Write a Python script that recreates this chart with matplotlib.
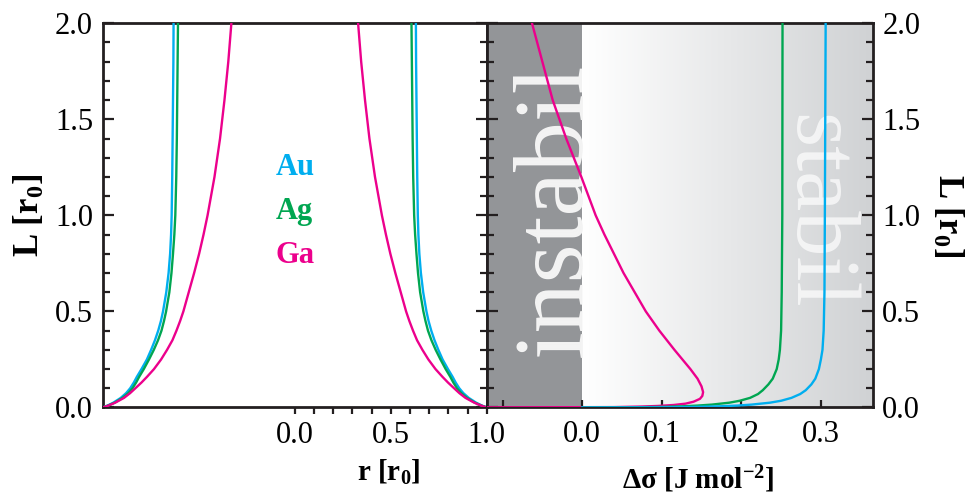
import numpy as np
import matplotlib.pyplot as plt
from matplotlib.ticker import MultipleLocator
from matplotlib.colors import LinearSegmentedColormap

plt.rcParams['font.family'] = ['Liberation Serif', 'DejaVu Serif']
plt.rcParams['mathtext.fontset'] = 'custom'
plt.rcParams['mathtext.rm'] = 'Liberation Serif'
plt.rcParams['mathtext.bf'] = 'Liberation Serif:bold'
plt.rcParams['mathtext.it'] = 'Liberation Serif:italic'

# left panel: L [r0] against r [r0], read on the r >= 0 side (curves are mirror symmetric)
L_left = [0.0, 0.01, 0.025, 0.05, 0.075, 0.1, 0.13, 0.16, 0.2, 0.25, 0.3, 0.35, 0.4,
          0.45, 0.5, 0.6, 0.7, 0.8, 0.9, 1.0, 1.2, 1.4, 1.6, 1.8, 2.0]
r_au = [1.0, 0.975, 0.945, 0.906, 0.878, 0.857, 0.838, 0.822, 0.798, 0.770, 0.748, 0.728, 0.711,
        0.697, 0.686, 0.669, 0.657, 0.649, 0.644, 0.641, 0.638, 0.636, 0.634, 0.632, 0.631]
r_ag = [1.0, 0.972, 0.938, 0.897, 0.867, 0.845, 0.826, 0.810, 0.786, 0.759, 0.734, 0.712, 0.694,
        0.681, 0.670, 0.653, 0.642, 0.634, 0.627, 0.622, 0.617, 0.614, 0.612, 0.610, 0.608]
r_ga = [1.0, 0.970, 0.935, 0.889, 0.857, 0.830, 0.798, 0.769, 0.733, 0.696, 0.665, 0.637, 0.616,
        0.597, 0.580, 0.552, 0.524, 0.498, 0.475, 0.454, 0.418, 0.389, 0.366, 0.346, 0.330]

# right panel: L [r0] against delta sigma [J mol-2]
L_ga = [2.0, 1.8, 1.6, 1.4, 1.2, 1.0, 0.9, 0.8, 0.7, 0.6, 0.5, 0.4, 0.3, 0.25, 0.2, 0.15,
        0.11, 0.08, 0.06, 0.045, 0.03, 0.02, 0.013, 0.008, 0.005, 0.002, 0.0005]
ds_ga = [-0.063, -0.050, -0.037, -0.020, -0.001, 0.017, 0.028, 0.040, 0.052, 0.066, 0.080, 0.097,
         0.116, 0.126, 0.136, 0.145, 0.150, 0.152, 0.151, 0.148, 0.140, 0.130, 0.115, 0.095,
         0.075, 0.040, -0.12]
L_ag = [2.0, 1.0, 0.6, 0.4, 0.3, 0.25, 0.2, 0.15, 0.12, 0.09, 0.07, 0.05, 0.035, 0.025,
        0.015, 0.01, 0.006, 0.003, 0.001, 0.0]
ds_ag = [0.2518, 0.2515, 0.2508, 0.2500, 0.2485, 0.2470, 0.2445, 0.2395, 0.2340, 0.2270, 0.2210,
         0.2110, 0.1980, 0.1850, 0.1630, 0.1450, 0.1250, 0.1000, 0.0600, 0.0]
L_au = [2.0, 1.0, 0.6, 0.4, 0.3, 0.25, 0.2, 0.15, 0.12, 0.09, 0.07, 0.05, 0.035, 0.025,
        0.015, 0.01, 0.006, 0.003, 0.001, 0.0]
ds_au = [0.306, 0.305, 0.3045, 0.3035, 0.302, 0.300, 0.2975, 0.293, 0.288, 0.281, 0.274,
         0.263, 0.250, 0.236, 0.213, 0.195, 0.172, 0.140, 0.100, 0.0]

colors = {'Au': '#00aeef', 'Ag': '#00a651', 'Ga': '#ec008c'}
left_r = {'Au': r_au, 'Ag': r_ag, 'Ga': r_ga}
right_data = {'Au': (ds_au, L_au), 'Ag': (ds_ag, L_ag), 'Ga': (ds_ga, L_ga)}

xticks_left = [0.0, 0.1, 0.2, 0.3, 0.4, 0.5, 0.6, 0.7, 0.8, 0.9, 1.0]
xticks_right = [-0.1, 0.0, 0.1, 0.2, 0.3]

ink = '#231f20'
fig = plt.figure(figsize=(9.7, 4.95), dpi=100)
ax1 = fig.add_axes([0.1059, 0.1768, 0.3959, 0.7762])
ax2 = fig.add_axes([0.5017, 0.1768, 0.3979, 0.7762])

# left panel
for name in ['Au', 'Ag', 'Ga']:
    r = np.array(left_r[name])
    ax1.plot(-r, L_left, color=colors[name], lw=1.7, zorder=3)
    ax1.plot(r, L_left, color=colors[name], lw=1.7, zorder=3)

for i, name in enumerate(['Au', 'Ag', 'Ga']):
    ax1.text(-0.10, 1.247 - 0.229 * i, name, color=colors[name], fontsize=22,
             fontweight='bold', ha='left', va='center')

ax1.set_xlim(-1, 1)
ax1.set_ylim(0, 2)
ax1.set_xticks(xticks_left)
ax1.set_xticklabels(['%.1f' % t if i % 5 == 0 else '' for i, t in enumerate(xticks_left)])
ax1.tick_params(axis='x', direction='out', length=5, width=1.6, color=ink, labelsize=22, pad=5)
ax1.tick_params(axis='y', which='both', direction='in', left=True, right=True,
                width=1.6, color=ink, labelsize=22, pad=7)
ax1.tick_params(axis='y', which='major', length=8)
ax1.tick_params(axis='y', which='minor', length=5)
ax1.set_ylabel(r'L [r$_\mathbf{0}$]', fontsize=25, fontweight='bold', labelpad=6)
ax1.set_xlabel(r'r [r$_\mathbf{0}$]', fontsize=21, fontweight='bold')
ax1.xaxis.set_label_coords(0.745, -0.13)

# right panel
ax2.axvspan(-0.13, 0.0, color='#939598', lw=0, zorder=0)
grad = np.linspace(0, 1, 256).reshape(1, -1)
cmap = LinearSegmentedColormap.from_list('bg', ['#ffffff', '#d0d2d4'])
ax2.imshow(grad, extent=(0.0, 0.365, 0, 2), aspect='auto', cmap=cmap, zorder=0)

ax2.text(-0.032, 1.03, 'instabil', rotation=90, ha='center', va='center',
         fontsize=72, color='#f4f4f4', zorder=1)
ax2.text(0.2935, 1.016, 'stabil', rotation=270, ha='center', va='center',
         fontsize=65, color='white', alpha=0.7, zorder=1)

for name in ['Ga', 'Ag', 'Au']:
    ds, L = right_data[name]
    ax2.plot(ds, L, color=colors[name], lw=1.7, zorder=3)

ax2.set_xlim(-0.12, 0.365)
ax2.set_ylim(0, 2)
ax2.set_xticks(xticks_right)
ax2.set_xticklabels(['' if t < 0 else '%.1f' % t for t in xticks_right])
ax2.tick_params(axis='x', direction='in', length=5, width=1.6, color=ink, labelsize=22, pad=9)
ax2.tick_params(axis='y', which='both', direction='in', left=True, right=True,
                labelleft=False, labelright=True, width=1.6, color=ink, labelsize=22, pad=7)
ax2.tick_params(axis='y', which='major', length=8)
ax2.tick_params(axis='y', which='minor', length=5)
ax2.yaxis.set_label_position('right')
ax2.set_ylabel(r'L [r$_\mathbf{0}$]', fontsize=25, fontweight='bold', rotation=270,
               va='bottom', labelpad=7)
ax2.set_xlabel(r'Δσ [J mol$^{\mathbf{-2}}$]', fontsize=21, fontweight='bold')
ax2.xaxis.set_label_coords(0.547, -0.145)

for ax in (ax1, ax2):
    ax.yaxis.set_major_locator(MultipleLocator(0.5))
    ax.yaxis.set_minor_locator(MultipleLocator(0.1))
    ax.yaxis.set_major_formatter(plt.FormatStrFormatter('%.1f'))
    for s in ax.spines.values():
        s.set_linewidth(2)
        s.set_color(ink)

fig.savefig('out.png', dpi=100)
